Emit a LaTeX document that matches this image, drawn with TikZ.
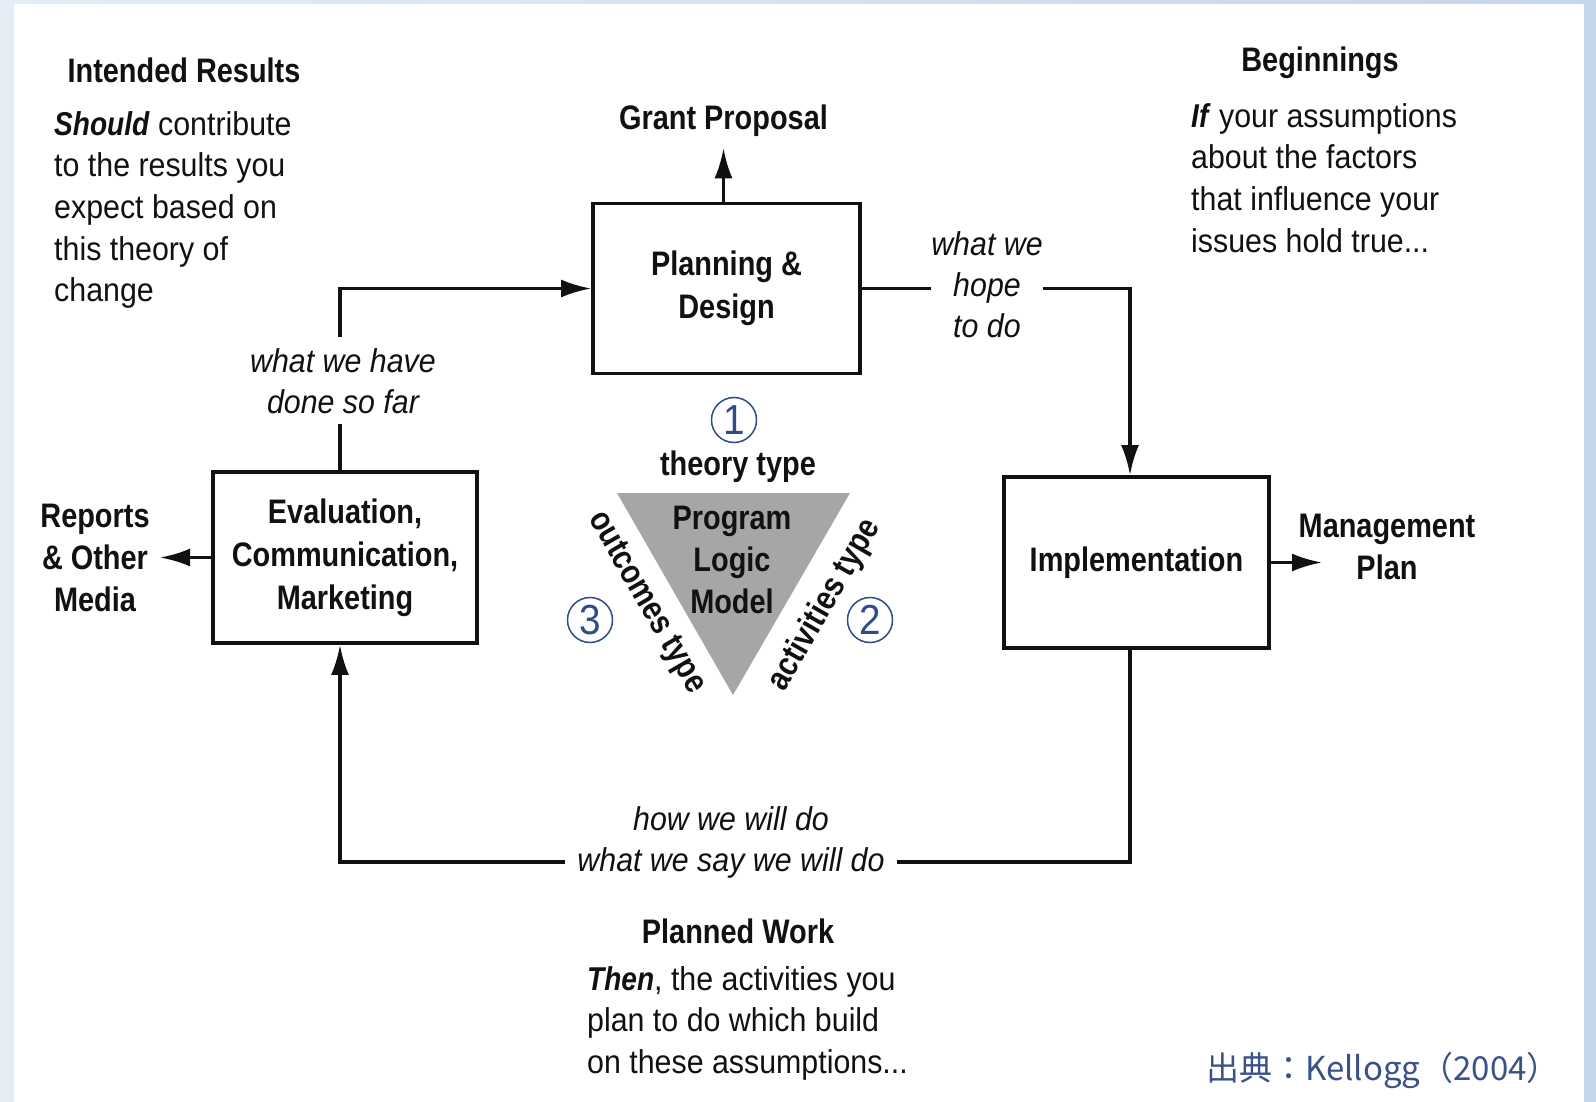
\documentclass[tikz,border=0pt]{standalone}
\usepackage{fontspec}
\setmainfont{Liberation Sans}[UprightFeatures={FakeStretch=0.92},ItalicFeatures={FakeStretch=0.92},BoldFeatures={FakeStretch=0.85},BoldItalicFeatures={FakeStretch=0.85}]
\newfontfamily\cjk{Noto Sans CJK JP}
\usetikzlibrary{arrows.meta}
\definecolor{ink}{HTML}{111111}
\definecolor{tri}{HTML}{A6A6A6}
\definecolor{numblue}{HTML}{2F4C88}
\definecolor{srcblue}{HTML}{3B5188}
\definecolor{bgl}{HTML}{E4EDF6}
\definecolor{bgr}{HTML}{C4D6EA}
\begin{document}
\begin{tikzpicture}[x=1pt,y=-1pt,
 box/.style={draw=ink, line width=3.8pt, inner sep=0pt, align=center, text=ink, font=\bfseries\fontsize{34}{43}\selectfont},
 conn/.style={draw=ink, line width=3.3pt},
 arr/.style={conn, -{Latex[length=30pt,width=18pt]}},
 hd/.style={font=\bfseries\fontsize{34}{42}\selectfont, text=ink, inner sep=0pt},
 bodytxt/.style={font=\fontsize{33}{41.7}\selectfont, text=ink, inner sep=0pt, align=left},
 lbl/.style={font=\itshape\fontsize{33}{41}\selectfont, text=ink, align=center, fill=white},
 num/.style={circle, draw=numblue, line width=1.5pt, minimum size=45pt, inner sep=0pt, text=numblue, font=\fontsize{42}{42}\selectfont}]
\useasboundingbox (0,0) rectangle (1596,1102);
\shade[left color=bgl, right color=bgr] (0,0) rectangle (1596,1102);
\fill[white] (14,4) rectangle (1584,1102);

% boxes
\node[box, minimum width=267pt, minimum height=170pt] (pd) at (726.5,288.5) {Planning \&\\Design};
\node[box, minimum width=264pt, minimum height=171pt] (ev) at (345,557.5) {Evaluation,\\Communication,\\Marketing};
\node[box, minimum width=265pt, minimum height=171pt] (im) at (1136.5,562.5) {Implementation};

% outputs
\node[hd, anchor=base, inner sep=11pt] (gp) at (723.5,130) {Grant Proposal};
\node[hd, align=center, anchor=north] (rep) at (95,504) {Reports\\\& Other\\Media};
\node[hd, align=center, anchor=north] (mp) at (1387,514) {Management\\Plan};
\coordinate (reptip) at (160,557.5);
\coordinate (mptip) at (1322,562.5);
\coordinate (botleft) at (340,862);

% connectors
\draw[arr] ([xshift=-3pt]pd.north) -- (gp.south);
\draw[arr] (ev.west) -- (reptip);
\draw[arr] (im.east) -- (mptip);
\draw[arr] ([xshift=-5pt]ev.north) |- (pd.west);
\draw[arr] (pd.east) -| ([xshift=-6.5pt]im.north);
\draw[arr] ([xshift=-6.5pt]im.south) |- (botleft) -- ([xshift=-5pt]ev.south);

% connector labels
\node[lbl, anchor=north, inner xsep=4pt, inner ysep=11pt] (l1) at (343,337) {what we have\\done so far};
\node[lbl, anchor=north, inner xsep=0pt, inner ysep=2pt] (l2) at (987,229.4) {what we\\hope\\to do};
\node[lbl, anchor=north, inner xsep=12pt, inner ysep=2pt] (l3) at (731,804) {how we will do\\what we say we will do};

% triangle
\fill[tri] (617,493) -- (850,493) -- (733,695) -- cycle;
\node[hd, anchor=base] (tt) at (738,475) {theory type};
\node[hd, align=center, anchor=north] (plm) at (732,505.7) {Program\\Logic\\Model};
\node[hd, rotate=-60] (ot) at (646,603) {outcomes type};
\node[hd, rotate=60] (at) at (825,605) {activities type};
\node[num] (n1) at (734,420) {1};
\node[num] (n2) at (870,620) {2};
\node[num] (n3) at (590,620) {3};

% texts
\node[hd, anchor=base] (irh) at (184,83) {Intended Results};
\node[bodytxt, anchor=north west] (irb) at (54,111) {\textbf{\textit{Should}} contribute\\to the results you\\expect based on\\this theory of\\change};
\node[hd, anchor=base] (bgh) at (1320,72) {Beginnings};
\node[bodytxt, anchor=north west] (bgb) at (1191,103) {\textbf{\textit{If}} your assumptions\\about the factors\\that influence your\\issues hold true...};
\node[hd, anchor=base] (pwh) at (738,943) {Planned Work};
\node[bodytxt, anchor=north west] (pwb) at (587,966) {\textbf{\textit{Then}}, the activities you\\plan to do which build\\on these assumptions...};
\node[font=\cjk\fontsize{33}{33}\selectfont, text=srcblue, anchor=base, inner sep=0pt] (src) at (1383,1080) {出典：Kellogg（2004）};
\end{tikzpicture}
\end{document}
